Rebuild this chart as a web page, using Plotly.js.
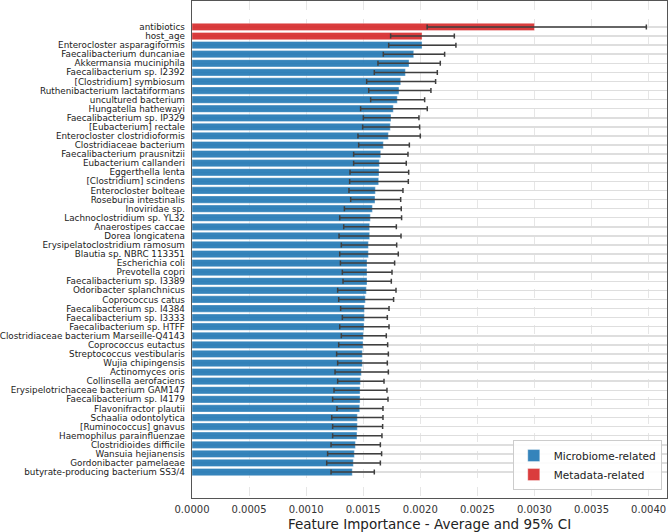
<!DOCTYPE html>
<html><head><meta charset="utf-8">
<script src="https://cdn.plot.ly/plotly-3.0.1.min.js"></script>
<style>html,body{margin:0;padding:0;background:#fff;}#chart{width:669px;height:532px;}</style>
</head><body><div id="chart"></div>
<script>
const features = ["antibiotics","host_age","Enterocloster asparagiformis","Faecalibacterium duncaniae","Akkermansia muciniphila","Faecalibacterium sp. I2392","[Clostridium] symbiosum","Ruthenibacterium lactatiformans","uncultured bacterium","Hungatella hathewayi","Faecalibacterium sp. IP329","[Eubacterium] rectale","Enterocloster clostridioformis","Clostridiaceae bacterium","Faecalibacterium prausnitzii","Eubacterium callanderi","Eggerthella lenta","[Clostridium] scindens","Enterocloster bolteae","Roseburia intestinalis","Inoviridae sp.","Lachnoclostridium sp. YL32","Anaerostipes caccae","Dorea longicatena","Erysipelatoclostridium ramosum","Blautia sp. NBRC 113351","Escherichia coli","Prevotella copri","Faecalibacterium sp. I3389","Odoribacter splanchnicus","Coprococcus catus","Faecalibacterium sp. I4384","Faecalibacterium sp. I3333","Faecalibacterium sp. HTFF","Clostridiaceae bacterium Marseille-Q4143","Coprococcus eutactus","Streptococcus vestibularis","Wujia chipingensis","Actinomyces oris","Collinsella aerofaciens","Erysipelotrichaceae bacterium GAM147","Faecalibacterium sp. I4179","Flavonifractor plautii","Schaalia odontolytica","[Ruminococcus] gnavus","Haemophilus parainfluenzae","Clostridioides difficile","Wansuia hejianensis","Gordonibacter pamelaeae","butyrate-producing bacterium SS3/4"];
const groups = ["Metadata-related","Metadata-related"].concat(Array(48).fill("Microbiome-related"));
const meanImp = [0.00300,0.002015,0.002015,0.001942,0.001901,0.001869,0.001828,0.001813,0.001798,0.001763,0.001743,0.001737,0.00172,0.001676,0.001653,0.001641,0.001638,0.001635,0.001606,0.001603,0.00158,0.001562,0.001556,0.001556,0.001545,0.001545,0.001533,0.001533,0.001533,0.001527,0.001518,0.00151,0.00151,0.001507,0.001501,0.001498,0.001492,0.001492,0.001483,0.001475,0.001472,0.001472,0.001469,0.001448,0.001448,0.001445,0.001431,0.001422,0.001413,0.001404];
const ciLow = [0.00206,0.00174,0.001723,0.001676,0.001629,0.001597,0.00153,0.001548,0.001565,0.001477,0.001501,0.001495,0.001454,0.00146,0.001416,0.001416,0.001384,0.001381,0.001375,0.00139,0.001335,0.001294,0.001329,0.001288,0.001308,0.001294,0.0013,0.001317,0.001323,0.001276,0.001285,0.001302,0.001317,0.001294,0.001308,0.001285,0.001267,0.001276,0.001253,0.001276,0.001244,0.001232,0.00127,0.001224,0.001232,0.001232,0.001218,0.001188,0.00118,0.001218];
const ciHigh = [0.00398,0.002298,0.002312,0.002213,0.002175,0.002149,0.002134,0.002093,0.002038,0.002061,0.001988,0.001994,0.0020,0.001904,0.001892,0.001877,0.001898,0.001895,0.001848,0.001828,0.001833,0.001836,0.00179,0.001831,0.001793,0.001807,0.001775,0.001752,0.001746,0.001787,0.001766,0.001726,0.001711,0.001726,0.001702,0.001714,0.00172,0.001711,0.00172,0.001682,0.001708,0.001717,0.001673,0.001673,0.00167,0.001664,0.00165,0.001661,0.00165,0.001597];
const legendNames = ["Microbiome-related","Metadata-related"];
const colors = {"Microbiome-related":"rgba(31,119,180,0.9)","Metadata-related":"rgba(214,39,40,0.9)"};

const traces = legendNames.map(name => {
  const idx = features.map((f,i)=>i).filter(i => groups[i] === name);
  return {
    type: 'bar', orientation: 'h', name: name,
    y: idx.map(i => features[i]),
    x: idx.map(i => meanImp[i]),
    width: 0.8,
    marker: {color: colors[name], line: {color: 'rgba(255,255,255,0.6)', width: 0.6}},
    error_x: {type: 'data', symmetric: false,
      array: idx.map(i => ciHigh[i] - meanImp[i]),
      arrayminus: idx.map(i => meanImp[i] - ciLow[i]),
      color: '#3f3f3f', thickness: 1.5, width: 2.5}
  };
});

const layout = {
  width: 669, height: 532,
  margin: {l: 192, r: 2, t: 1, b: 34, pad: 0},
  paper_bgcolor: '#fff', plot_bgcolor: '#fff',
  barmode: 'overlay',
  font: {family: 'DejaVu Sans, sans-serif', color: '#333', size: 10},
  xaxis: {
    range: [0, 0.004161], dtick: 0.0005, tick0: 0, tickformat: '.4f',
    showgrid: true, gridcolor: '#e6e6e6', gridwidth: 1, griddash: 'dash',
    showline: true, linecolor: '#555', linewidth: 1.3, mirror: true,
    ticks: '', zeroline: false, automargin: false,
    tickfont: {size: 10, color: '#333'}, ticklabelstandoff: 2,
    title: {text: 'Feature Importance - Average and 95% CI', font: {size: 13.5, color: '#222'}, standoff: 6}
  },
  yaxis: {
    type: 'category', categoryorder: 'array', categoryarray: features,
    tickmode: 'array', tickvals: features, ticktext: features,
    range: [51.86, -2.86],
    showgrid: true, gridcolor: '#dedede', gridwidth: 1.5,
    showline: true, linecolor: '#555', linewidth: 1.3, mirror: true,
    ticks: '', zeroline: false, automargin: false,
    tickfont: {size: 8.8, color: '#222'}, ticklabelstandoff: 4
  },
  showlegend: true,
  legend: {x: 0.989, y: 0.016, xanchor: 'right', yanchor: 'bottom',
    bgcolor: 'rgba(255,255,255,0.9)', bordercolor: '#cccccc', borderwidth: 1,
    font: {size: 10.5, color: '#222'}, traceorder: 'normal', tracegroupgap: 0}
};

Plotly.newPlot('chart', traces, layout, {staticPlot: true, displayModeBar: false});
</script></body></html>
